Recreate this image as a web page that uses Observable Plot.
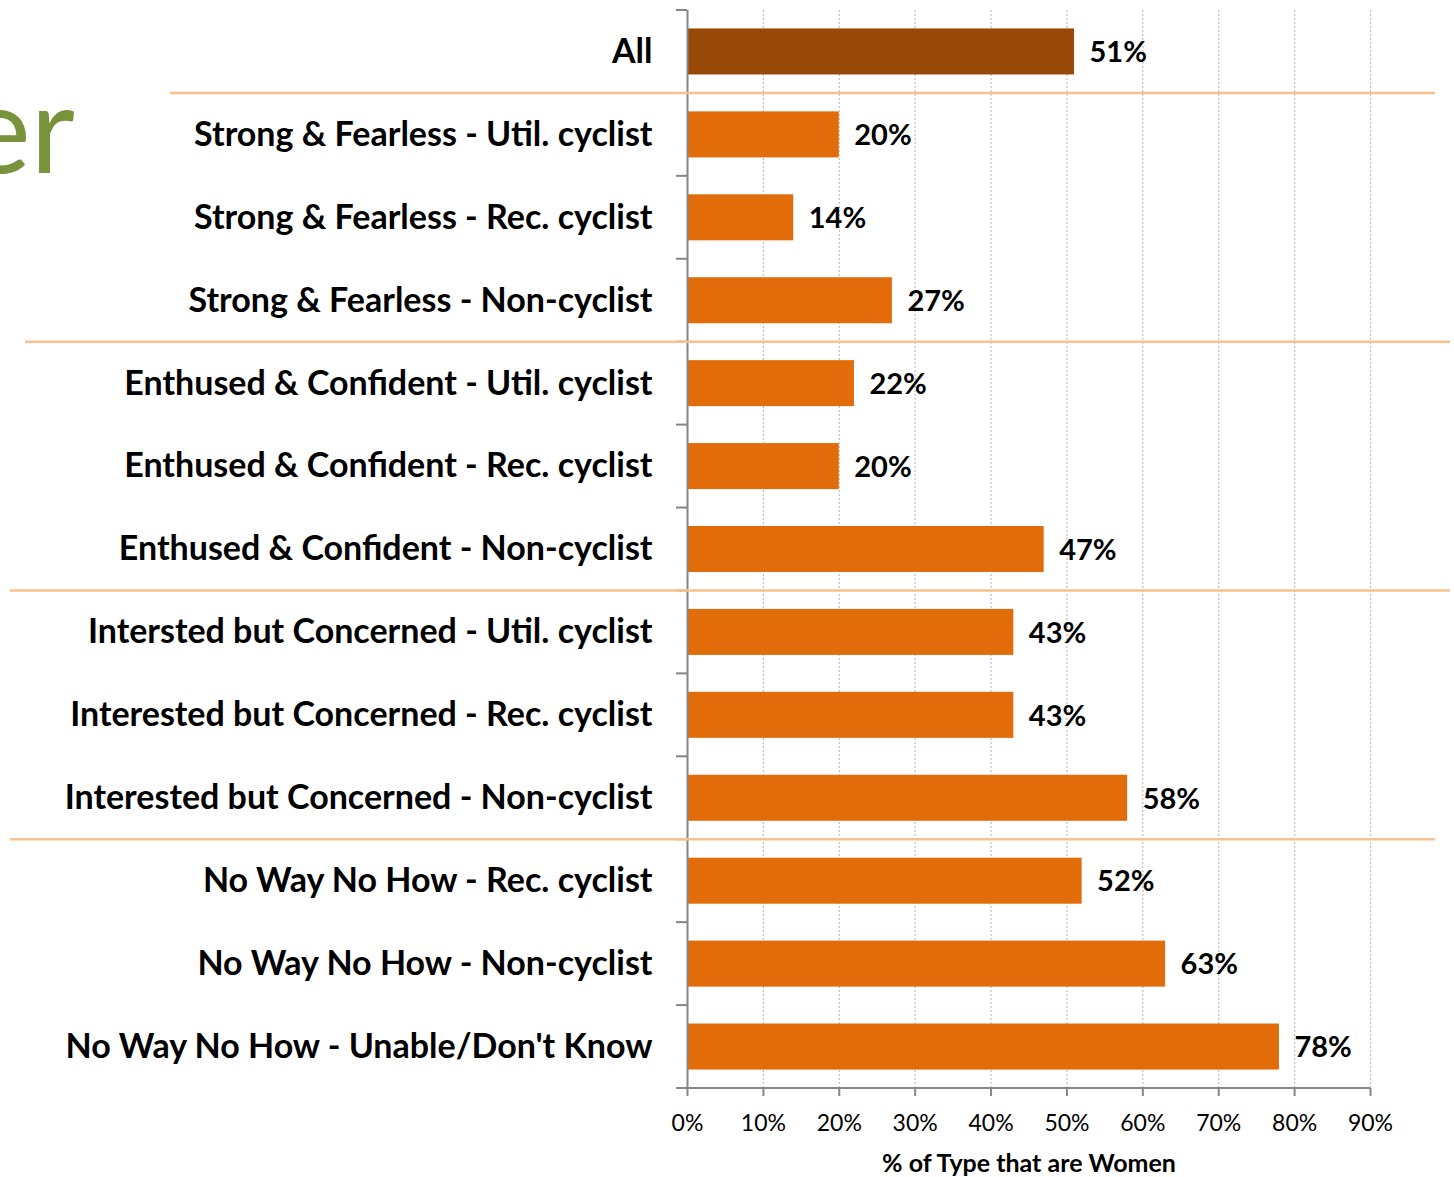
<!DOCTYPE html>
<html><head><meta charset="utf-8">
<script src="https://cdn.jsdelivr.net/npm/d3@7"></script>
<script src="https://cdn.jsdelivr.net/npm/@observablehq/plot@0.6"></script>
<style>
body{margin:0;background:#fff;}
#chart{position:relative;width:1454px;height:1177px;overflow:hidden;background:#fff}
</style>
</head><body><div id="chart"></div>
<script>
// ---- data ----
const categories = [
  "All",
  "Strong & Fearless - Util. cyclist",
  "Strong & Fearless - Rec. cyclist",
  "Strong & Fearless - Non-cyclist",
  "Enthused & Confident - Util. cyclist",
  "Enthused & Confident - Rec. cyclist",
  "Enthused & Confident - Non-cyclist",
  "Intersted but Concerned - Util. cyclist",
  "Interested but Concerned - Rec. cyclist",
  "Interested but Concerned - Non-cyclist",
  "No Way No How - Rec. cyclist",
  "No Way No How - Non-cyclist",
  "No Way No How - Unable/Don't Know"
];
const values = [51, 20, 14, 27, 22, 20, 47, 43, 43, 58, 52, 63, 78];
const highlighted = ["All"];
const groupEnds = [
  "All",
  "Strong & Fearless - Non-cyclist",
  "Enthused & Confident - Non-cyclist",
  "Interested but Concerned - Non-cyclist"
];
const xTicks = [0, 10, 20, 30, 40, 50, 60, 70, 80, 90];
const axisTitle = "% of Type that are Women";
const backgroundTitle = "er";

// ---- styles ----
const FONT = "Lato, 'Open Sans', sans-serif";
const colors = {bar: "#E36C0A", highlight: "#984807", sep: "#FAC090", grid: "#BFBFBF", axis: "#868686", title: "#77933C"};
// separator extents in pixels (left, right), one per group end
const sepExtents = [[170, 1435], [25, 1450], [10, 1450], [10, 1435]];

const data = categories.map((c, i) => ({category: c, value: values[i], hl: highlighted.includes(c)}));

const plot = Plot.plot({
  width: 1454,
  height: 1177,
  marginLeft: 687,
  marginRight: 84,
  marginTop: 10,
  marginBottom: 89,
  style: {fontFamily: FONT, background: "transparent", overflow: "visible"},
  x: {domain: [0, 90], ticks: xTicks},
  y: {domain: categories, paddingInner: 0.445, paddingOuter: 0.2225, round: false},
  marks: [
    Plot.gridX(xTicks, {stroke: colors.grid, strokeOpacity: 1, strokeDasharray: "2,2", strokeWidth: 1.2}),
    Plot.barX(data, {x: "value", y: "category", fill: d => d.hl ? colors.highlight : colors.bar}),
    Plot.ruleX([0], {stroke: colors.axis, strokeWidth: 2}),
    Plot.text(data, {x: "value", y: "category", text: d => d.value + "%", textAnchor: "start", dx: 15, dy: 1,
      fontSize: 29, fontWeight: "bold", fill: "#000"}),
    Plot.axisY({tickSize: 0, tickPadding: 35, fontSize: 34, fontWeight: "bold", fill: "#000", label: null}),
    Plot.axisX({ticks: xTicks, tickFormat: d => d + "%", tickSize: 8, tickPadding: 18, stroke: colors.axis, strokeWidth: 2,
      fontSize: 23, fill: "#000", label: null}),
    Plot.text([axisTitle], {frameAnchor: "bottom", dy: 83, fontSize: 25, fontWeight: "bold", fill: "#000"})
  ]
});

document.getElementById("chart").appendChild(plot);

// ---- decorations using the plot's own scales ----
const svg = d3.select(plot);
const ys = plot.scale("y");
const xs = plot.scale("x");
const step = ys.step;
const half = step * ys.paddingInner / 2;
const boundary = c => ys.apply(c) - half;
const bottomY = ys.apply(categories[categories.length - 1]) + ys.bandwidth + half;
const x0 = xs.apply(0), x90 = xs.apply(90);

const g = svg.append("g");
// bottom axis line
g.append("line").attr("x1", x0 - 11).attr("x2", x90).attr("y1", bottomY).attr("y2", bottomY)
  .attr("stroke", colors.axis).attr("stroke-width", 2);
// category boundary ticks
categories.forEach(c => {
  const y = boundary(c);
  g.append("line").attr("x1", x0 - 11).attr("x2", x0).attr("y1", y).attr("y2", y)
    .attr("stroke", colors.axis).attr("stroke-width", 2);
});
// group separators
groupEnds.forEach((c, i) => {
  const y = ys.apply(c) + ys.bandwidth + half;
  g.append("line").attr("x1", sepExtents[i][0]).attr("x2", sepExtents[i][1]).attr("y1", y).attr("y2", y)
    .attr("stroke", colors.sep).attr("stroke-width", 2.5);
});
// partially visible slide title
svg.append("text").text(backgroundTitle)
  .attr("x", 75).attr("y", ys.apply(categories[1]) + ys.bandwidth / 2 + 39)
  .attr("text-anchor", "end").attr("font-size", 122).attr("font-family", FONT)
  .attr("fill", colors.title);
</script>
</body></html>
